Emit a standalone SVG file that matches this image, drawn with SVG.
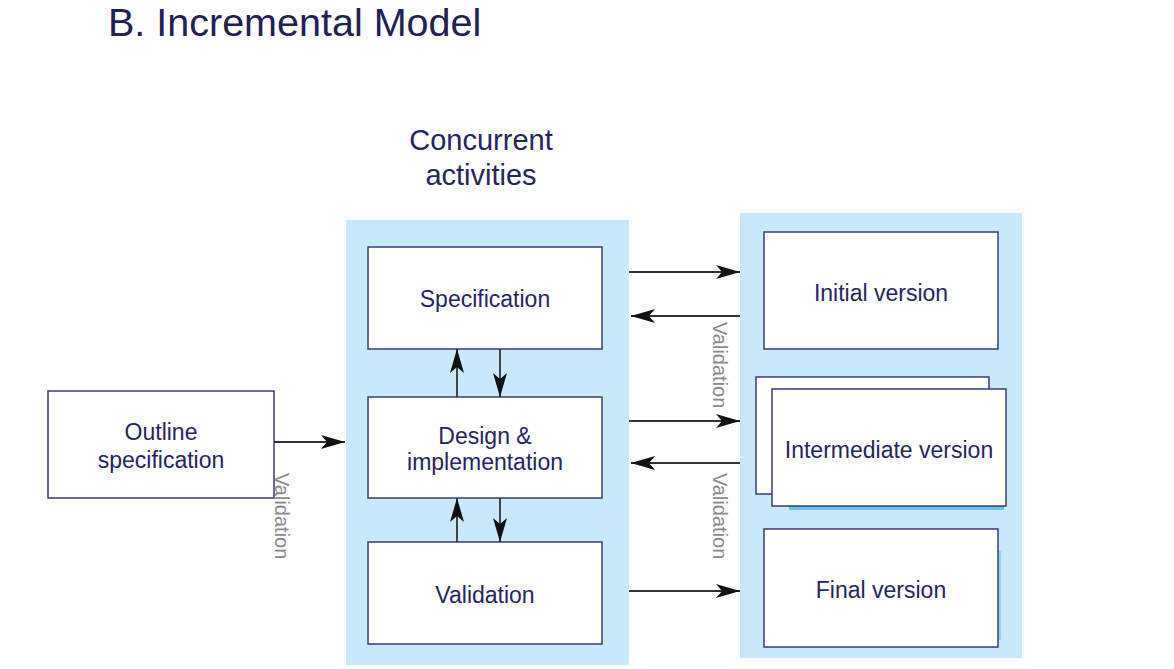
<svg xmlns="http://www.w3.org/2000/svg" width="1174" height="669" viewBox="0 0 1174 669">
<style>
.panel{fill:#c7e9fb}
.box{fill:#ffffff;stroke:#3c3a78;stroke-width:1.5}
.t{font-family:"Liberation Sans",Arial,sans-serif;fill:#252560;text-anchor:middle}
.bt{font-size:23px}
.v{font-family:"Liberation Sans",Arial,sans-serif;font-size:20px;fill:#8a8a8a}
.c{stroke:#333;stroke-width:1.8;fill:none;marker-end:url(#ah)}
</style>
<defs>
<marker id="ah" markerWidth="26" markerHeight="14" refX="24" refY="7" orient="auto" markerUnits="userSpaceOnUse">
<path d="M0,0 L24,7 L0,14 L6,7 Z" fill="#111"/>
</marker>
</defs>
<rect width="1174" height="669" fill="#fff"/>
<text x="108" y="36" font-family="Liberation Sans,Arial,sans-serif" font-size="39.5" fill="#222055">B. Incremental Model</text>
<g id="panels">
<rect class="panel" x="346" y="220" width="283" height="445"/>
<rect class="panel" x="740" y="213" width="282" height="445"/>
</g>
<g id="concurrent-label">
<text class="t" x="481" y="150" font-size="29">Concurrent</text>
<text class="t" x="481" y="185" font-size="29">activities</text>
</g>
<g id="outline">
<rect class="box" x="48" y="391" width="226" height="107"/>
<text class="t bt" x="161" y="440">Outline</text>
<text class="t bt" x="161" y="468">specification</text>
</g>
<g id="spec">
<rect class="box" x="368" y="247" width="234" height="102"/>
<text class="t bt" x="485" y="307">Specification</text>
</g>
<g id="design">
<rect class="box" x="368" y="397" width="234" height="101"/>
<text class="t bt" x="485" y="444">Design &amp;</text>
<text class="t bt" x="485" y="470">implementation</text>
</g>
<g id="validation">
<rect class="box" x="368" y="542" width="234" height="102"/>
<text class="t bt" x="485" y="603">Validation</text>
</g>
<g id="initial">
<rect class="box" x="764" y="232" width="234" height="117"/>
<text class="t bt" x="881" y="301">Initial version</text>
</g>
<g id="intermediate">
<rect class="box" x="756" y="377" width="233" height="117"/>
<rect x="789" y="505" width="215" height="5" fill="#5cc3f3"/>
<rect class="box" x="772" y="389" width="234" height="117"/>
<text class="t bt" x="889" y="458">Intermediate version</text>
</g>
<g id="final">
<rect x="998" y="551" width="3" height="89" fill="#8fd3f6"/>
<rect class="box" x="764" y="529" width="234" height="118"/>
<text class="t bt" x="881" y="598">Final version</text>
</g>
<g id="connectors">
<line class="c" x1="274" y1="442" x2="345" y2="442"/>
<line class="c" x1="629" y1="272" x2="740" y2="272"/>
<line class="c" x1="740" y1="316" x2="631" y2="316"/>
<line class="c" x1="629" y1="421" x2="740" y2="421"/>
<line class="c" x1="740" y1="463" x2="631" y2="463"/>
<line class="c" x1="629" y1="591" x2="740" y2="591"/>
<line class="c" x1="457" y1="397" x2="457" y2="349"/>
<line class="c" x1="500" y1="349" x2="500" y2="397"/>
<line class="c" x1="457" y1="542" x2="457" y2="498"/>
<line class="c" x1="500" y1="498" x2="500" y2="542"/>
</g>
<g id="validation-labels">
<text class="v" transform="translate(713,322) rotate(90)">Validation</text>
<text class="v" transform="translate(713,473) rotate(90)">Validation</text>
<text class="v" transform="translate(275,473) rotate(90)">Validation</text>
</g>
</svg>
